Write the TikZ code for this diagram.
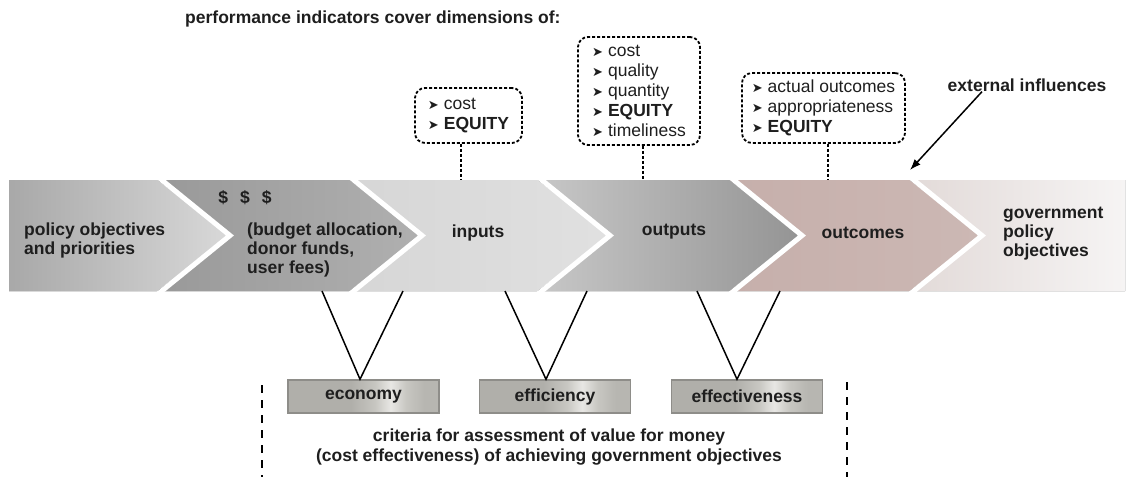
\documentclass[tikz,border=0pt]{standalone}
\usepackage{fontspec}
\setmainfont{Liberation Sans}
\newfontfamily\arrowfont{DejaVu Sans}
\usetikzlibrary{arrows.meta,positioning}

\definecolor{txt}{HTML}{1E1E1E}
\definecolor{critA}{HTML}{B0AFAA}
\definecolor{critB}{HTML}{C8C7C2}
\definecolor{critC}{HTML}{E8E7E4}
\definecolor{critline}{HTML}{8E8D89}

\pgfdeclarehorizontalshading{critshade}{100bp}{color(0bp)=(critA); color(25bp)=(critA); color(46bp)=(critA); color(54bp)=(critB); color(59bp)=(critC); color(64bp)=(critB); color(70bp)=(critA!70!critB); color(100bp)=(critA!70!critB)}

\newcommand{\bul}{{\arrowfont\fontsize{13}{13}\selectfont ➤}\hspace{5pt}}

\tikzset{
  lbl/.style={inner sep=0pt},
  chevA/.style={left color=black!34, right color=black!15},
  chevB/.style={left color=black!40, right color=black!31},
  chevC/.style={left color=black!16, right color=black!12},
  chevD/.style={left color=black!22, right color=black!42},
  chevE/.style={left color={rgb,255:red,198;green,175;blue,171}, right color={rgb,255:red,204;green,184;blue,180}},
  chevF/.style={left color={rgb,255:red,226;green,218;blue,216}, right color={rgb,255:red,246;green,244;blue,244}},
  gap/.style={white, line width=5pt, line join=miter},
  indbox/.style={draw, dash pattern=on 3pt off 2pt, line width=1.8pt, rounded corners=10pt,
    inner sep=0pt, align=left, font=\fontsize{17.5}{20}\selectfont\mdseries},
  tie/.style={dash pattern=on 3pt off 2pt, line width=2pt},
  critbox/.style={draw=critline, line width=1.5pt, shade, shading=critshade,
    minimum width=151pt, minimum height=33pt, inner sep=0pt},
  vline/.style={line width=1.5pt},
  frame/.style={dash pattern=on 8pt off 7pt, line width=2.3pt},
  extarrow/.style={line width=1.5pt, -{Latex[length=11pt,width=8pt]}}
}

\begin{document}
\begin{tikzpicture}[x=1pt, y=-1pt, font=\fontsize{17.5}{19}\selectfont\bfseries, text=txt]
\useasboundingbox (0,0) rectangle (1132,477);

% chevron row
\fill[chevA] (9,180) -- (158,180) -- (230,235.5) -- (158,291) -- (9,291) -- cycle;
\fill[chevB] (158,180) -- (350,180) -- (422,235.5) -- (350,291) -- (158,291) -- (230,235.5) -- cycle;
\fill[chevC] (350,180) -- (538,180) -- (610,235.5) -- (538,291) -- (350,291) -- (422,235.5) -- cycle;
\fill[chevD] (538,180) -- (730,180) -- (802,235.5) -- (730,291) -- (538,291) -- (610,235.5) -- cycle;
\fill[chevE] (730,180) -- (910,180) -- (982,235.5) -- (910,291) -- (730,291) -- (802,235.5) -- cycle;
\fill[chevF] (910,180) -- (1125,180) -- (1125,291) -- (910,291) -- (982,235.5) -- cycle;
\foreach \p in {230,422,610,802,982}
  \draw[gap] (\p-72,177) -- (\p,235.5) -- (\p-72,294);

\node[lbl, anchor=west, align=left] (policy) at (24,240) {policy objectives\\and priorities};
\node[lbl] (dollars) at (245,198) {\$\hspace{12pt}\$\hspace{12pt}\$};
\node[lbl, anchor=west, align=left] (funds) at (247,250) {(budget allocation,\\donor funds,\\user fees)};
\node[lbl] (inputs) at (478,233) {inputs};
\node[lbl] (outputs) at (674,232) {outputs};
\node[lbl] (outcomes) at (863,233) {outcomes};
\node[lbl, anchor=west, align=left] (govt) at (1003,234) {government\\policy\\objectives};

% indicators
\node[lbl, anchor=west] (title) at (185,19) {performance indicators cover dimensions of:};
\node[indbox, minimum width=107pt, minimum height=55pt] (ind1) at (468.5,115.5)
  {\bul cost\\\bul\textbf{EQUITY}};
\node[indbox, minimum width=122pt, minimum height=108pt] (ind2) at (639,91)
  {\bul cost\\\bul quality\\\bul quantity\\\bul\textbf{EQUITY}\\\bul timeliness};
\node[indbox, minimum width=163pt, minimum height=70pt] (ind3) at (823.5,108)
  {\bul actual outcomes\\\bul appropriateness\\\bul\textbf{EQUITY}};

\coordinate (rowtop) at (0,180);
\draw[tie] ([xshift=-8pt]ind1.south) -- ([xshift=-8pt]ind1.south |- rowtop);
\draw[tie] ([xshift=4pt]ind2.south) -- ([xshift=4pt]ind2.south |- rowtop);
\draw[tie] ([xshift=4.5pt]ind3.south) -- ([xshift=4.5pt]ind3.south |- rowtop);

\node[lbl] (ext) at (1027,85) {external influences};
\coordinate (exttip) at (910,170);
\draw[extarrow] ([xshift=-45pt]ext.south) -- (exttip);

% value for money
\node[critbox] (econ) at (363.5,396.5) {economy};
\node[critbox] (effic) at (555,396.5) {efficiency};
\node[critbox] (effect) at (747,396.5) {effectiveness};

\coordinate (v1a) at (322,291); \coordinate (v1b) at (403,291);
\coordinate (v2a) at (505,291); \coordinate (v2b) at (587,291);
\coordinate (v3a) at (697,291); \coordinate (v3b) at (780,291);
\draw[vline] (v1a) -- ([xshift=-3.5pt]econ.north) -- (v1b);
\draw[vline] (v2a) -- ([xshift=-9pt]effic.north) -- (v2b);
\draw[vline] (v3a) -- ([xshift=-10pt]effect.north) -- (v3b);

\draw[frame] (262,385) -- (262,477);
\draw[frame] (847,382) -- (847,477);

\node[lbl, align=center, font=\fontsize{17.5}{20}\selectfont\bfseries] (criteria) at (549,447)
  {criteria for assessment of value for money\\(cost effectiveness) of achieving government objectives};
\end{tikzpicture}
\end{document}
